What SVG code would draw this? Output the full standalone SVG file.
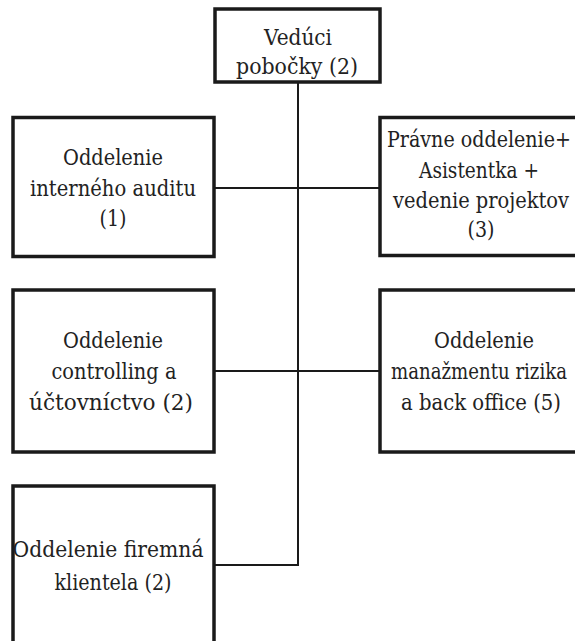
<svg xmlns="http://www.w3.org/2000/svg" width="575" height="641" viewBox="0 0 575 641">
<style>
.box{fill:#fff;stroke:#1a1a1a;stroke-width:3.5}
.c{stroke:#1a1a1a;stroke-width:2;fill:none}
</style>
<rect width="575" height="641" fill="#fff"/>
<g id="connectors">
<line class="c" x1="298" y1="82" x2="298" y2="566"/>
<line class="c" x1="214" y1="188" x2="380" y2="188"/>
<line class="c" x1="214" y1="371" x2="380" y2="371"/>
<line class="c" x1="214" y1="565" x2="299" y2="565"/>
</g>
<g id="nodes" font-family="DejaVu Serif, serif" font-size="23" fill="#222" text-anchor="middle">
<g id="n_top">
<rect class="box" x="215" y="9" width="165" height="73"/>
<text x="298" y="45" textLength="68" lengthAdjust="spacingAndGlyphs">Vedúci</text>
<text x="297" y="74" textLength="122" lengthAdjust="spacingAndGlyphs">pobočky (2)</text>
</g>
<g id="n_audit">
<rect class="box" x="13" y="117.5" width="201" height="139"/>
<text x="113" y="165" textLength="100" lengthAdjust="spacingAndGlyphs">Oddelenie</text>
<text x="113" y="196" textLength="166" lengthAdjust="spacingAndGlyphs">interného auditu</text>
<text x="113" y="226" textLength="27" lengthAdjust="spacingAndGlyphs">(1)</text>
</g>
<g id="n_pravne">
<rect class="box" x="380" y="117.5" width="210" height="138"/>
<text x="479" y="147" textLength="184" lengthAdjust="spacingAndGlyphs">Právne oddelenie+</text>
<text x="479" y="178" textLength="120" lengthAdjust="spacingAndGlyphs">Asistentka +</text>
<text x="481" y="208" textLength="176" lengthAdjust="spacingAndGlyphs">vedenie projektov</text>
<text x="481" y="237" textLength="27" lengthAdjust="spacingAndGlyphs">(3)</text>
</g>
<g id="n_controlling">
<rect class="box" x="13" y="290" width="201" height="162"/>
<text x="113" y="348" textLength="100" lengthAdjust="spacingAndGlyphs">Oddelenie</text>
<text x="114" y="379" textLength="125" lengthAdjust="spacingAndGlyphs">controlling a</text>
<text x="111" y="410" textLength="164" lengthAdjust="spacingAndGlyphs">účtovníctvo (2)</text>
</g>
<g id="n_riziko">
<rect class="box" x="380" y="290" width="210" height="162"/>
<text x="484" y="348" textLength="100" lengthAdjust="spacingAndGlyphs">Oddelenie</text>
<text x="479" y="379" textLength="176" lengthAdjust="spacingAndGlyphs">manažmentu rizika</text>
<text x="481" y="410" textLength="160" lengthAdjust="spacingAndGlyphs">a back office (5)</text>
</g>
<g id="n_firemna">
<rect class="box" x="13" y="486" width="201" height="175"/>
<text x="108" y="557" textLength="191" lengthAdjust="spacingAndGlyphs">Oddelenie firemná</text>
<text x="113" y="590" textLength="117" lengthAdjust="spacingAndGlyphs">klientela (2)</text>
</g>
</g>
</svg>
